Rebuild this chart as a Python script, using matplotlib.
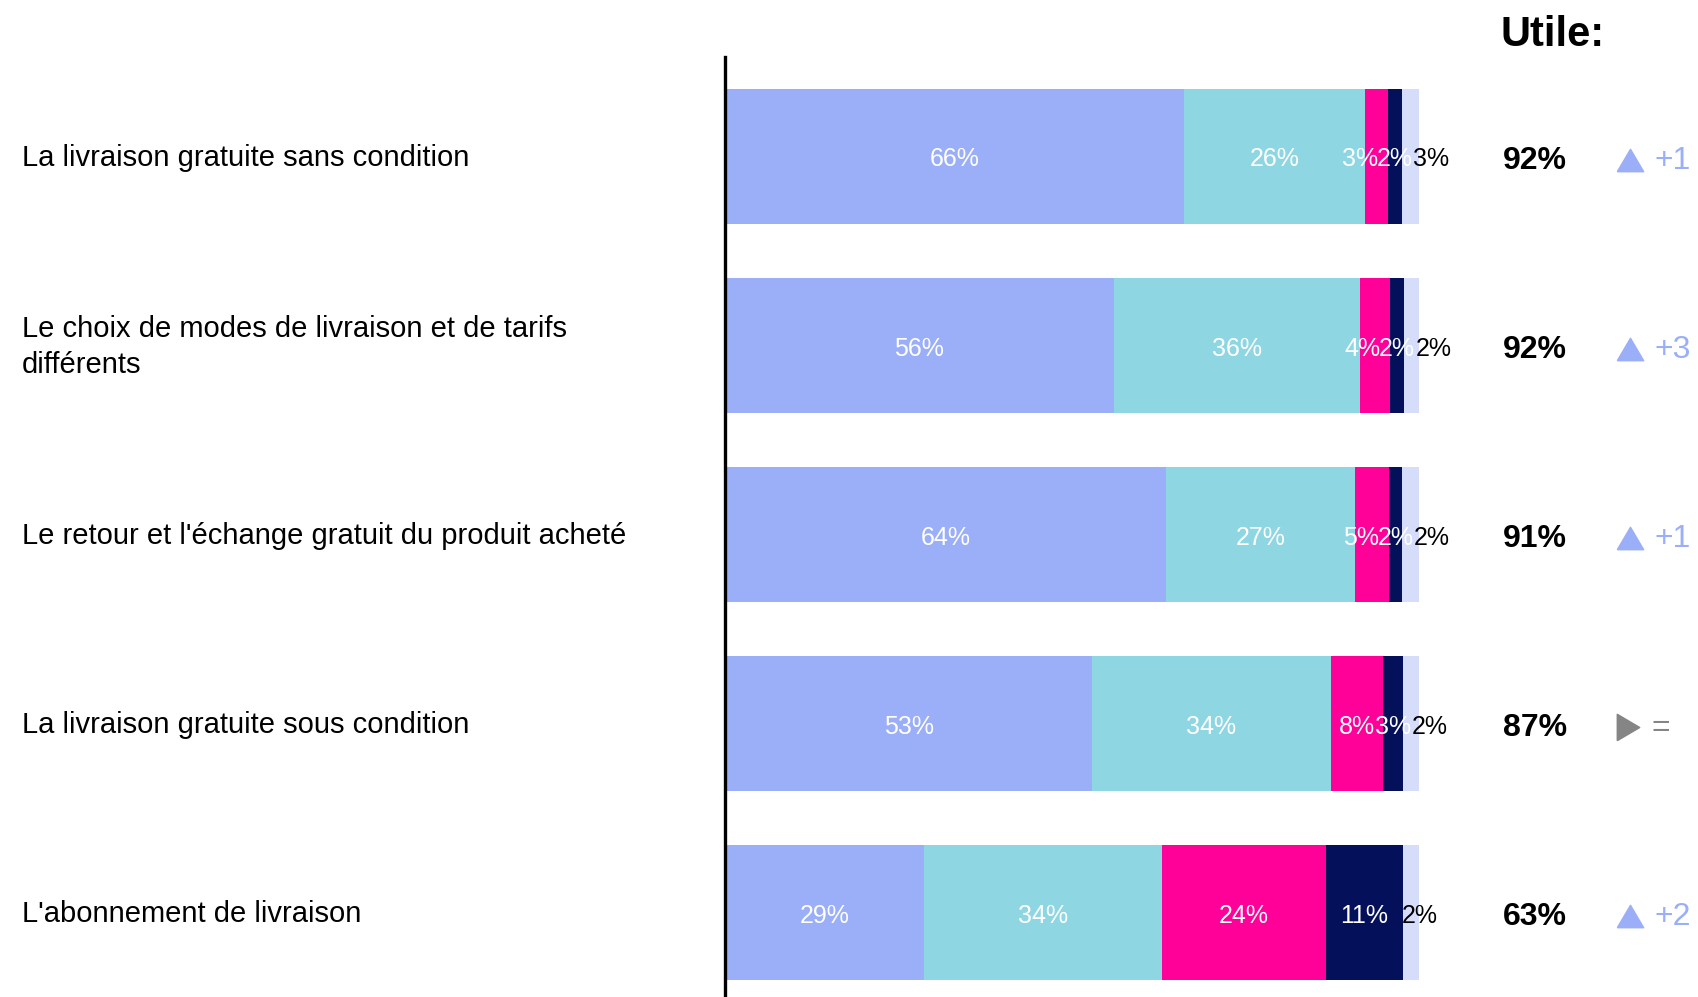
import matplotlib
matplotlib.use("Agg")
import matplotlib.pyplot as plt
import numpy as np

plt.rcParams['font.family'] = ['Liberation Sans', 'DejaVu Sans']

categories = [
    "La livraison gratuite sans condition",
    "Le choix de modes de livraison et de tarifs\ndifférents",
    "Le retour et l'échange gratuit du produit acheté",
    "La livraison gratuite sous condition",
    "L'abonnement de livraison",
]
# measured segment widths (%)
tres_utile = [66.1, 56.0, 63.5, 52.9, 28.7]
plutot_utile = [26.1, 35.5, 27.3, 34.4, 34.2]
plutot_pas_utile = [3.3, 4.3, 4.9, 7.5, 23.7]
pas_du_tout_utile = [2.0, 2.0, 1.8, 2.9, 11.1]
nsp = [2.5, 2.2, 2.5, 2.3, 2.3]
# printed labels
lbl_tres_utile = ["66%", "56%", "64%", "53%", "29%"]
lbl_plutot_utile = ["26%", "36%", "27%", "34%", "34%"]
lbl_plutot_pas_utile = ["3%", "4%", "5%", "8%", "24%"]
lbl_pas_du_tout_utile = ["2%", "2%", "2%", "3%", "11%"]
lbl_nsp = ["3%", "2%", "2%", "2%", "2%"]
utile_total = ["92%", "92%", "91%", "87%", "63%"]
evolution = ["+1", "+3", "+1", "=", "+2"]
evolution_dir = ["up", "up", "up", "flat", "up"]

series = [tres_utile, plutot_utile, plutot_pas_utile, pas_du_tout_utile, nsp]
labels = [lbl_tres_utile, lbl_plutot_utile, lbl_plutot_pas_utile,
          lbl_pas_du_tout_utile, lbl_nsp]
colors = ["#9BAEF8", "#8FD6E3", "#FF0099", "#05105A", "#D6DDFA"]

W, H = 1699, 997
fig = plt.figure(figsize=(W / 100, H / 100), dpi=100)
ax_left = 725 / W
ax_right = 1419 / W
ax = fig.add_axes([ax_left, 0, ax_right - ax_left, 1 - 57 / H])

n = len(categories)
y = np.arange(n)
left = np.zeros(n)
centers = []
for vals, col in zip(series, colors):
    vals = np.array(vals, dtype=float)
    ax.barh(y, vals, left=left, height=0.714, color=col, edgecolor='none')
    centers.append(left + vals / 2)
    left += vals

dy = 0.018
fs = 18
for i in range(n):
    # big segments: centered
    for si in (0, 1, 3):
        ax.text(centers[si][i], y[i] + dy, labels[si][i], ha='center', va='center',
                color='white', fontsize=fs)
    # pink: centered unless it would collide with the navy label
    xp = min(centers[2][i], centers[3][i] - 5.0)
    ax.text(xp, y[i] + dy, labels[2][i], ha='center', va='center',
            color='white', fontsize=fs)
    # light segment: label pushed right, in black
    xl = max(centers[4][i] + 1.3, centers[3][i] + 5.3)
    ax.text(xl, y[i] + dy, labels[4][i], ha='center', va='center',
            color='black', fontsize=fs)

ax.set_xlim(0, 100)
ax.set_ylim(4.447, -0.524)
ax.set_xticks([])
ax.set_yticks([])
for s in ['top', 'right', 'bottom']:
    ax.spines[s].set_visible(False)
ax.spines['left'].set_linewidth(2.4)
ax.spines['left'].set_color('black')

pitch = 189.1
# category labels
for i, cat in enumerate(categories):
    fig.text(22 / W, 1 - (158 + pitch * i) / H, cat, ha='left', va='center',
             fontsize=21, color='black', linespacing=1.35)

# right side
fig.text(1553 / W, 1 - 35 / H, "Utile:", ha='center', va='center',
         fontsize=30, fontweight='bold', color='black')
up_marker = [(-1, -0.85), (1, -0.85), (0, 0.85), (-1, -0.85)]
right_marker = [(-0.85, -1), (0.85, 0), (-0.85, 1), (-0.85, -1)]
for i in range(n):
    yc = 1 - (161 + pitch * i) / H
    fig.text(1535 / W, yc, utile_total[i], ha='center', va='center',
             fontsize=23, fontweight='bold', color='black')
    if evolution_dir[i] == "up":
        fig.lines.append(plt.Line2D([1630 / W], [yc + 0.001], marker=up_marker,
                                    markersize=19, color="#9BAEF8", linestyle='none',
                                    transform=fig.transFigure))
        fig.text(1655 / W, yc, evolution[i], ha='left', va='center',
                 fontsize=23, color="#9BAEF8")
    else:
        fig.lines.append(plt.Line2D([1628 / W], [yc + 0.001], marker=right_marker,
                                    markersize=19, color="#858585", linestyle='none',
                                    transform=fig.transFigure))
        fig.text(1652 / W, yc, evolution[i], ha='left', va='center',
                 fontsize=23, color="#858585")

fig.savefig("out.png", dpi=100)
